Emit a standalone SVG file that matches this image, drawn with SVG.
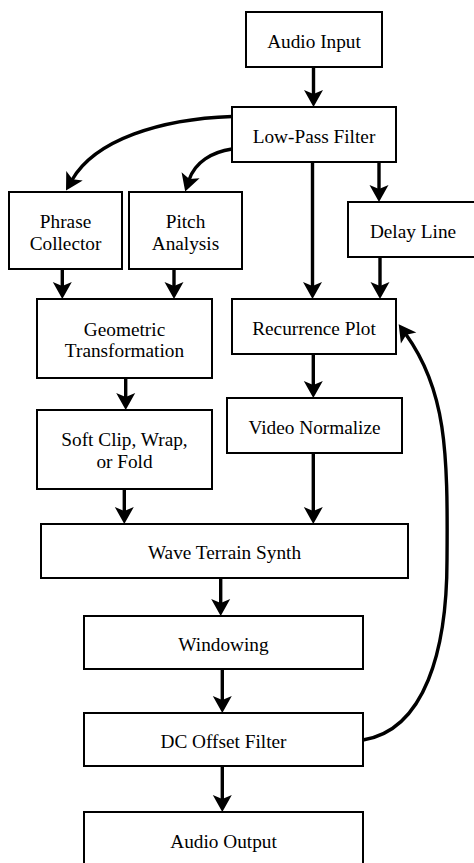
<svg xmlns="http://www.w3.org/2000/svg" width="474" height="863" viewBox="0 0 474 863">
<style>
.box{fill:#fff;stroke:#000;stroke-width:2}
.lbl{font-family:'Liberation Serif','Times New Roman',Times,'DejaVu Serif',serif;font-size:19.3px;fill:#000;text-anchor:middle}
.edge{fill:none;stroke:#000;stroke-width:3.4;marker-end:url(#ah)}
</style>
<defs>
<marker id="ah" markerUnits="userSpaceOnUse" markerWidth="30" markerHeight="30" refX="5" refY="0" orient="auto" overflow="visible">
<path d="M0,-9.5 L17,0 L0,9.5 L4,0 Z" fill="#000"/>
</marker>
</defs>
<rect width="474" height="863" fill="#fff"/>
<g id="connectors">
<path class="edge" d="M313.5,67 L313.5,95"/>
<path class="edge" d="M232,116.5 C160,119 95,140 72,180"/>
<path class="edge" d="M232,149 C212,152 195,162 189,180"/>
<path class="edge" d="M312.5,163 L312.5,287"/>
<path class="edge" d="M379,162 L379,190"/>
<path class="edge" d="M62.3,269 L62.3,287"/>
<path class="edge" d="M174,269 L174,287"/>
<path class="edge" d="M380,257 L380,287"/>
<path class="edge" d="M313.3,354 L313.3,386"/>
<path class="edge" d="M125.7,378 L125.7,398"/>
<path class="edge" d="M124.3,489 L124.3,512"/>
<path class="edge" d="M313.3,453 L313.3,512"/>
<path class="edge" d="M220.7,578 L220.7,604"/>
<path class="edge" d="M222.3,669 L222.3,701"/>
<path class="edge" d="M222.3,766 L222.3,800"/>
<path class="edge" d="M363,740 C425,730 447,650 447,560 C448,450 446,390 405.7,334"/>
</g>
<g id="audio-input"><rect class="box" x="246" y="12" width="136" height="55"/><text class="lbl" x="314" y="48">Audio Input</text></g>
<g id="low-pass-filter"><rect class="box" x="232" y="107" width="164" height="55"/><text class="lbl" x="314" y="143">Low-Pass Filter</text></g>
<g id="phrase-collector"><rect class="box" x="9" y="192" width="113" height="77"/><text class="lbl" x="65.5" y="228">Phrase</text><text class="lbl" x="65.5" y="250">Collector</text></g>
<g id="pitch-analysis"><rect class="box" x="129" y="192" width="113" height="77"/><text class="lbl" x="185.5" y="228">Pitch</text><text class="lbl" x="185.5" y="250">Analysis</text></g>
<g id="delay-line"><rect class="box" x="348" y="202" width="130" height="55"/><text class="lbl" x="413" y="238">Delay Line</text></g>
<g id="geometric-transformation"><rect class="box" x="37" y="299" width="175" height="79"/><text class="lbl" x="124.5" y="335.5">Geometric</text><text class="lbl" x="124.5" y="357">Transformation</text></g>
<g id="recurrence-plot"><rect class="box" x="232" y="299" width="164" height="55"/><text class="lbl" x="314" y="335">Recurrence Plot</text></g>
<g id="soft-clip"><rect class="box" x="37" y="410" width="175" height="79"/><text class="lbl" x="124.5" y="446">Soft Clip, Wrap,</text><text class="lbl" x="124.5" y="467.5">or Fold</text></g>
<g id="video-normalize"><rect class="box" x="227" y="398" width="175" height="55"/><text class="lbl" x="314.5" y="433.5">Video Normalize</text></g>
<g id="wave-terrain-synth"><rect class="box" x="41" y="524" width="367" height="54"/><text class="lbl" x="224.5" y="559">Wave Terrain Synth</text></g>
<g id="windowing"><rect class="box" x="84" y="616" width="279" height="53"/><text class="lbl" x="223.5" y="651">Windowing</text></g>
<g id="dc-offset-filter"><rect class="box" x="84" y="713" width="279" height="53"/><text class="lbl" x="223.5" y="747.5">DC Offset Filter</text></g>
<g id="audio-output"><rect class="box" x="84" y="812" width="279" height="56"/><text class="lbl" x="223.5" y="848.3">Audio Output</text></g>
</svg>
